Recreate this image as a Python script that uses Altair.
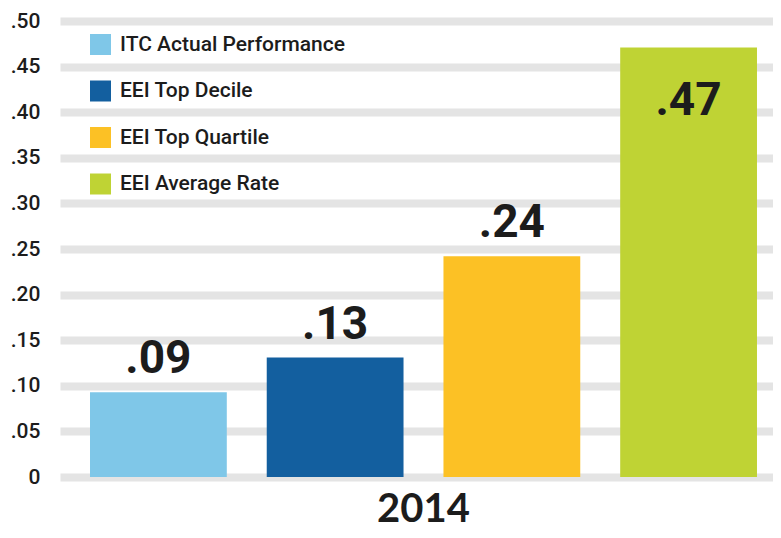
import altair as alt
import pandas as pd

series = ["ITC Actual Performance", "EEI Top Decile", "EEI Top Quartile", "EEI Average Rate"]
values = [0.093, 0.131, 0.242, 0.471]
colors = ["#7fc7e8", "#135f9f", "#fcc125", "#bfd334"]
year = ["2014"] * 4
y_ticks = [0, 0.05, 0.10, 0.15, 0.20, 0.25, 0.30, 0.35, 0.40, 0.45, 0.50]

df = pd.DataFrame({"year": year, "series": series, "value": values})
df["label"] = [f"{v:.2f}".lstrip("0") for v in values]

FONT = "Roboto, Liberation Sans, sans-serif"
INK = "#1c1c1c"

x_enc = alt.X(
    "year:N",
    title=None,
    scale=alt.Scale(paddingInner=0, paddingOuter=0.0345, align=0.652),
    axis=alt.Axis(
        labelAngle=0, labelFont="Lato", labelFontWeight="bold", labelFontSize=40,
        labelColor=INK, labelBaseline="alphabetic", labelPadding=44,
        ticks=False, domain=False, grid=False,
    ),
)
xo_enc = alt.XOffset("series:N", sort=series,
                     scale=alt.Scale(paddingInner=0.226, paddingOuter=0))
y_enc = alt.Y(
    "value:Q",
    title=None,
    scale=alt.Scale(domain=[0, 0.5], nice=False, zero=True),
    axis=alt.Axis(
        values=y_ticks,
        labelExpr="datum.value == 0 ? '0' : replace(format(datum.value, '.2f'), '0.', '.')",
        labelFont=FONT, labelFontSize=21, labelFontWeight=500, labelColor=INK, labelPadding=20,
        ticks=False, domain=False, grid=True, gridColor="#e4e4e4", gridWidth=8,
    ),
)

bars = alt.Chart(df).mark_bar().encode(
    x=x_enc,
    xOffset=xo_enc,
    y=y_enc,
    color=alt.Color(
        "series:N",
        sort=series,
        scale=alt.Scale(domain=series, range=colors),
        legend=alt.Legend(
            title=None, orient="none", legendX=30, legendY=13,
            symbolType="square", symbolSize=441, symbolStrokeWidth=0, symbolOpacity=1,
            labelFont=FONT, labelFontSize=21, labelFontWeight=500, labelColor=INK, labelOffset=9,
            rowPadding=24.5, padding=0, labelLimit=400,
        ),
    ),
)

text_base = alt.Chart(df).encode(x=x_enc, xOffset=xo_enc, y=y_enc, text="label:N")

labels_out = text_base.transform_filter("datum.value < 0.44").mark_text(
    font=FONT, fontWeight="bold", fontSize=46, color=INK, baseline="bottom", dy=-9,
)
labels_in = text_base.transform_filter("datum.value >= 0.44").mark_text(
    font=FONT, fontWeight="bold", fontSize=46, color=INK, baseline="bottom", dy=78,
)

chart = (bars + labels_out + labels_in).properties(
    width=713, height=456,
    autosize=alt.AutoSizeParams(type="none"),
    padding={"left": 52, "top": 13, "right": 0, "bottom": 53},
    background="white",
).configure_view(stroke=None)

chart.save("out.html", embed_options={"renderer": "svg", "actions": False})
